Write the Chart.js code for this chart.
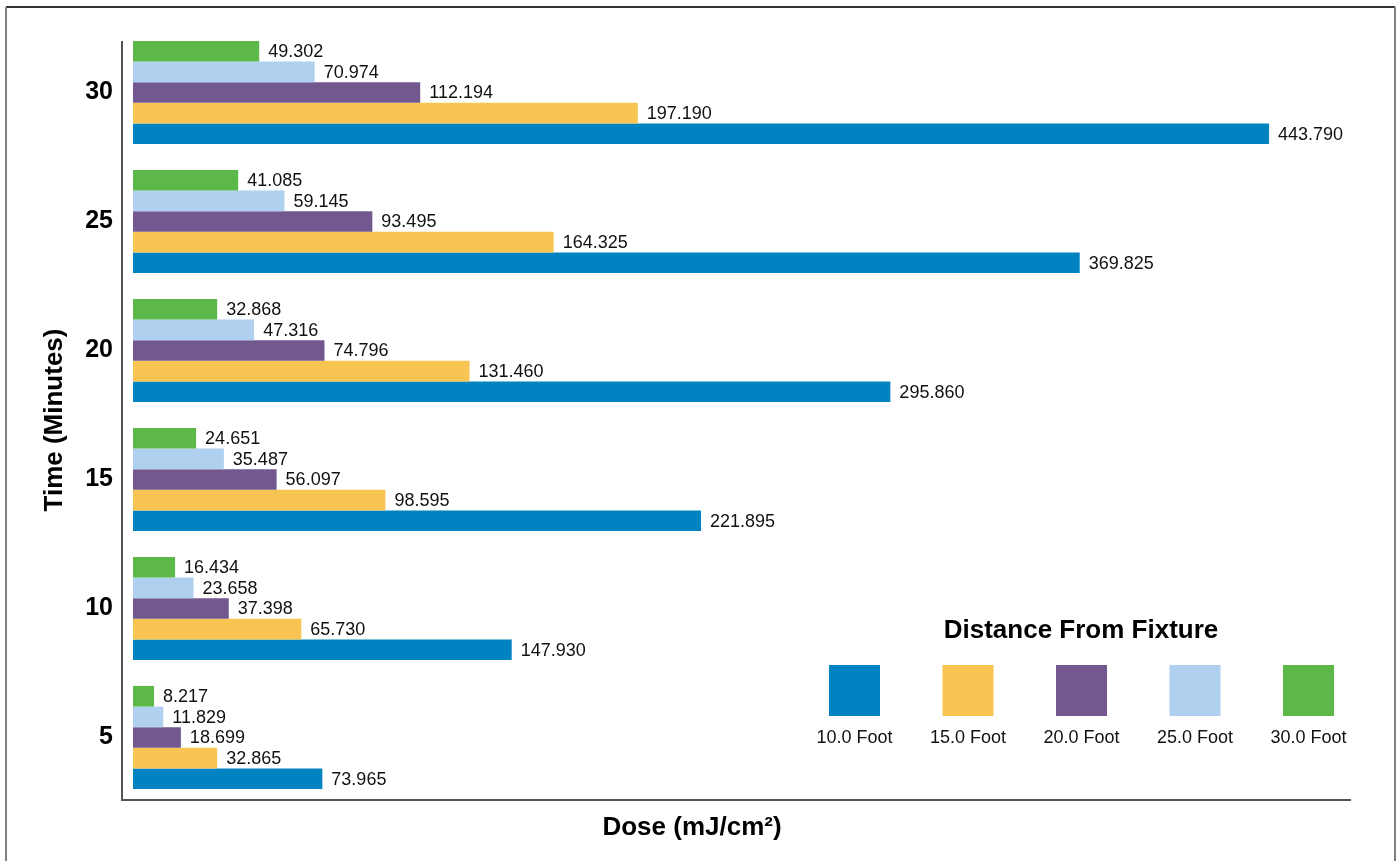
<!DOCTYPE html>
<html>
<head>
<meta charset="utf-8">
<title>Dose by Time and Distance</title>
<script src="https://cdn.jsdelivr.net/npm/chart.js@4.4.1/dist/chart.umd.min.js"></script>
<style>
  html, body { margin: 0; padding: 0; background: #fff; }
  #wrap { width: 1399px; height: 861px; }
</style>
</head>
<body>
<div id="wrap"><canvas id="dose-chart" width="1399" height="861"></canvas></div>
<script>
// Time categories, top to bottom
var times = ['30', '25', '20', '15', '10', '5'];

// Dose (mJ/cm2) per distance from fixture, same order as times
var dose10ft = [443.790, 369.825, 295.860, 221.895, 147.930, 73.965];
var dose15ft = [197.190, 164.325, 131.460, 98.595, 65.730, 32.865];
var dose20ft = [112.194, 93.495, 74.796, 56.097, 37.398, 18.699];
var dose25ft = [70.974, 59.145, 47.316, 35.487, 23.658, 11.829];
var dose30ft = [49.302, 41.085, 32.868, 24.651, 16.434, 8.217];

var distanceLabels = ['10.0 Foot', '15.0 Foot', '20.0 Foot', '25.0 Foot', '30.0 Foot'];
var distanceColors = ['#0083C0', '#F8C553', '#72588E', '#AFD0EE', '#5CB848'];

var FONT = '"Liberation Sans", Arial, sans-serif';

// bars inside a group go top -> bottom: 30 ft first, 10 ft last
var seriesData = [dose10ft, dose15ft, dose20ft, dose25ft, dose30ft];
var datasets = [];
for (var i = seriesData.length - 1; i >= 0; i--) {
    datasets.push({
        label: distanceLabels[i],
        data: seriesData[i],
        backgroundColor: distanceColors[i],
        borderWidth: 0,
        barPercentage: 1.0,
        categoryPercentage: 0.8
    });
}

// frame, axis lines, titles, value labels and the legend block
var decorPlugin = {
    id: 'decor',
    beforeDraw: function (chart) {
        var c = chart.ctx;
        c.save();
        c.fillStyle = '#fff';
        c.fillRect(0, 0, chart.width, chart.height);
        c.lineWidth = 2;
        c.strokeStyle = '#333';
        c.beginPath();
        c.moveTo(6, 7); c.lineTo(1395, 7);
        c.stroke();
        c.strokeStyle = '#808080';
        c.beginPath();
        c.moveTo(6, 7); c.lineTo(6, 861);
        c.moveTo(1395, 7); c.lineTo(1395, 861);
        c.stroke();
        c.restore();
    },
    afterDatasetsDraw: function (chart) {
        var c = chart.ctx;
        c.save();
        c.font = '18px ' + FONT;
        c.fillStyle = '#111';
        c.textAlign = 'left';
        c.textBaseline = 'middle';
        chart.data.datasets.forEach(function (ds, di) {
            var meta = chart.getDatasetMeta(di);
            meta.data.forEach(function (bar, j) {
                c.fillText(ds.data[j].toFixed(3), bar.x + 9, bar.y + 1);
            });
        });
        c.restore();
    },
    afterDraw: function (chart) {
        var c = chart.ctx;
        var area = chart.chartArea;
        var firstBar = chart.getDatasetMeta(0).data[0];
        var axisTop = firstBar.y - firstBar.height / 2;
        var axisBottom = area.bottom - 2;
        c.save();
        c.strokeStyle = '#555';
        c.lineWidth = 2;
        c.beginPath();
        c.moveTo(area.left, axisTop);
        c.lineTo(area.left, axisBottom);
        c.lineTo(area.right, axisBottom);
        c.stroke();

        // axis titles
        c.fillStyle = '#000';
        c.font = 'bold 26px ' + FONT;
        c.textAlign = 'center';
        c.textBaseline = 'middle';
        c.fillText('Dose (mJ/cm\u00B2)', 692, 828);
        c.save();
        c.translate(55, 420);
        c.rotate(-Math.PI / 2);
        c.fillText('Time (Minutes)', 0, 0);
        c.restore();

        // legend
        c.fillText('Distance From Fixture', 1081, 631);
        c.font = '18px ' + FONT;
        c.fillStyle = '#111';
        for (var k = 0; k < distanceLabels.length; k++) {
            var cx = 854.5 + k * 113.5;
            c.fillStyle = distanceColors[k];
            c.fillRect(cx - 25.5, 665, 51, 51);
            c.fillStyle = '#111';
            c.fillText(distanceLabels[k], cx, 738);
        }
        c.restore();
    }
};

var ctx = document.getElementById('dose-chart').getContext('2d');
var doseChart = new Chart(ctx, {
    type: 'bar',
    data: {
        labels: times,
        datasets: datasets
    },
    options: {
        indexAxis: 'y',
        responsive: false,
        animation: false,
        devicePixelRatio: 1,
        layout: {
            padding: { top: 28, right: 48, bottom: 59, left: 0 }
        },
        plugins: {
            legend: { display: false },
            tooltip: { enabled: false }
        },
        scales: {
            x: {
                display: false,
                min: -4.3,
                max: 475.8
            },
            y: {
                grid: { display: false, drawTicks: false },
                border: { display: false },
                ticks: {
                    padding: 9,
                    color: '#000',
                    font: { family: FONT, size: 25, weight: 'bold' }
                },
                afterFit: function (scale) {
                    scale.width = 122;
                }
            }
        }
    },
    plugins: [decorPlugin]
});
</script>
</body>
</html>
